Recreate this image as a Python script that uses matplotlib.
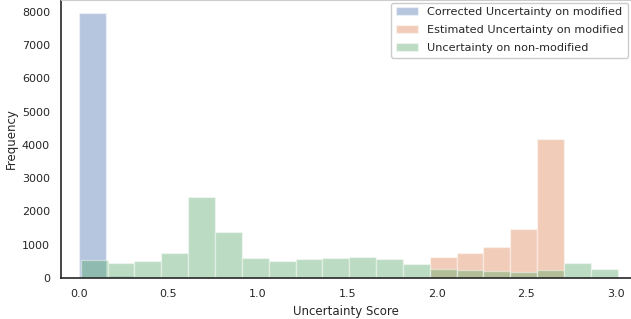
import numpy as np
import matplotlib
matplotlib.use("Agg")
import matplotlib.pyplot as plt
import seaborn as sns

# histogram counts (20 bins each)
corrected_edges = np.linspace(0.0, 3.0, 21)
corrected_counts = [7980, 50, 0, 0, 0, 0, 0, 0, 0, 0,
                    0, 0, 0, 0, 0, 0, 0, 0, 0, 0]

other_edges = np.linspace(0.01, 3.01, 21)
estimated_counts = [0, 0, 0, 0, 0, 0, 0, 0, 0, 0,
                    0, 0, 0, 620, 750, 930, 1470, 4180, 40, 0]
nonmod_counts = [550, 450, 500, 750, 2440, 1370, 600, 520, 570, 590,
                 630, 570, 430, 270, 230, 200, 170, 230, 440, 270]

labels = ["Corrected Uncertainty on modified",
          "Estimated Uncertainty on modified",
          "Uncertainty on non-modified"]

sns.set_style("white")
plt.rcParams["font.family"] = ["DejaVu Sans"]
colors = sns.color_palette("deep")

fig = plt.figure(figsize=(6.31, 3.19), dpi=100)
ax = fig.add_axes([61 / 631, 41 / 319, 1 - 61 / 631, 278 / 319])

series = [(corrected_edges, corrected_counts),
          (other_edges, estimated_counts),
          (other_edges, nonmod_counts)]
for (edges, counts), color, label in zip(series, colors, labels):
    ax.hist(edges[:-1], bins=edges, weights=counts, color=color, alpha=0.4,
            edgecolor="white", linewidth=1, label=label)

ax.set_xlim(-0.1, 3.084)
ax.set_ylim(0, 8356)
ax.set_xticks([0.0, 0.5, 1.0, 1.5, 2.0, 2.5, 3.0])
ax.set_yticks(range(0, 8001, 1000))
ax.tick_params(labelsize=8, colors=".15", length=0, pad=8)
ax.set_xlabel("Uncertainty Score", fontsize=8.5, color=".15")
ax.set_ylabel("Frequency", fontsize=8.5, color=".15", labelpad=3)
for side in ["left", "bottom"]:
    ax.spines[side].set_color(".15")
    ax.spines[side].set_linewidth(1.2)
ax.spines["right"].set_visible(False)
ax.spines["top"].set_color(".8")

ax.legend(loc="upper right", fontsize=8.1, frameon=True, framealpha=1,
          edgecolor=".8", borderaxespad=0.25, labelspacing=0.7)

fig.savefig("out.png", dpi=100)
